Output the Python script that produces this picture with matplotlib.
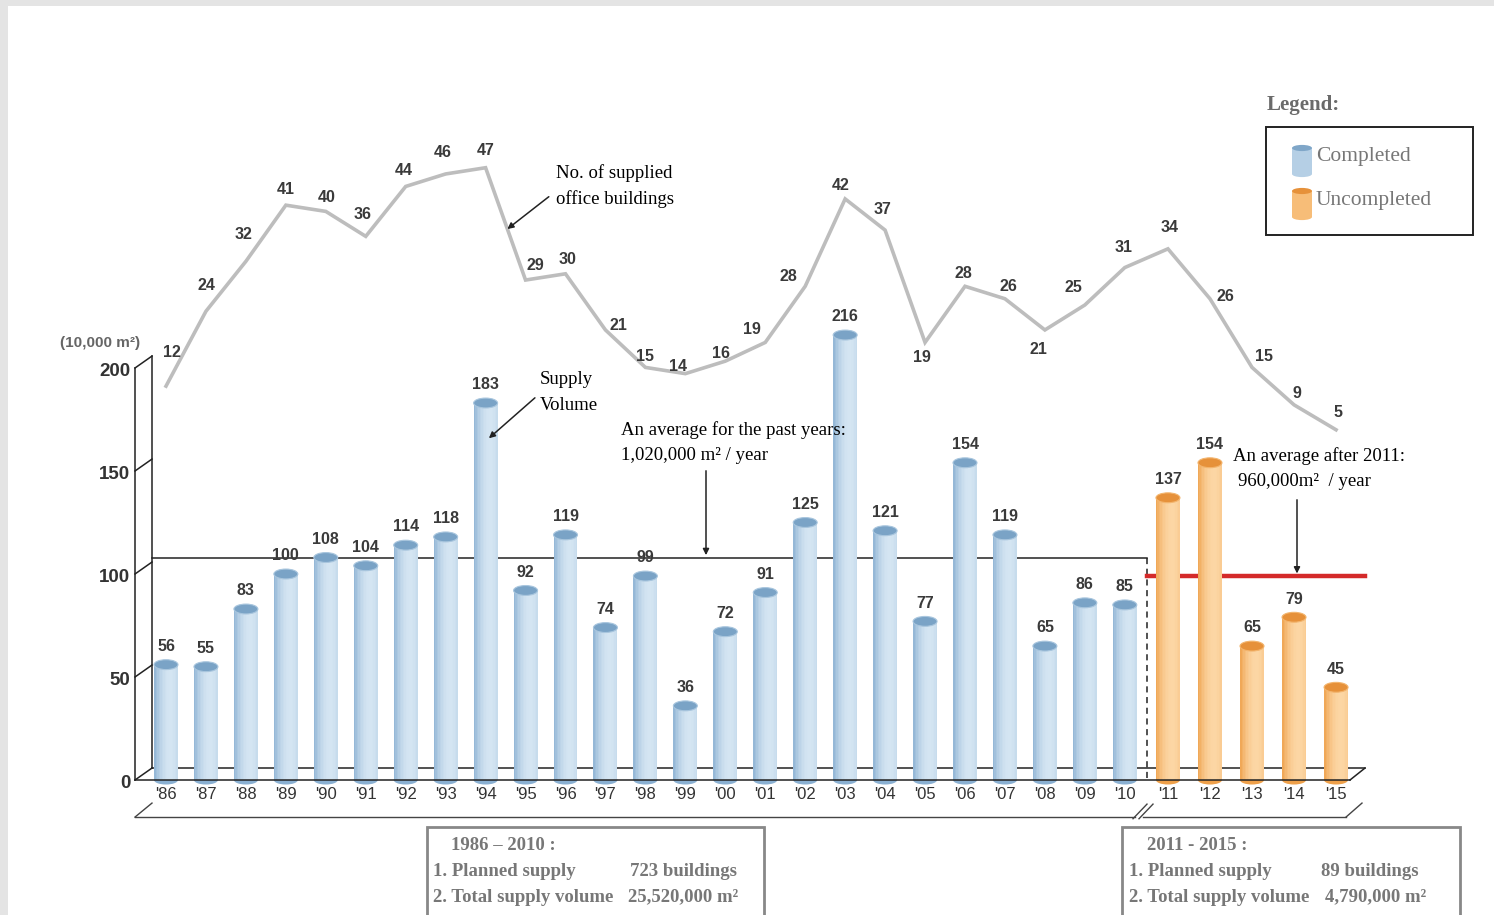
import matplotlib
matplotlib.use('Agg')
import matplotlib.pyplot as plt
import numpy as np
from matplotlib.patches import Ellipse, Rectangle
from matplotlib.colors import to_rgb

# Data
years = ["'86", "'87", "'88", "'89", "'90", "'91", "'92", "'93", "'94", "'95",
         "'96", "'97", "'98", "'99", "'00", "'01", "'02", "'03", "'04", "'05",
         "'06", "'07", "'08", "'09", "'10", "'11", "'12", "'13", "'14", "'15"]
supply_volume = [56, 55, 83, 100, 108, 104, 114, 118, 183, 92,
                 119, 74, 99, 36, 72, 91, 125, 216, 121, 77,
                 154, 119, 65, 86, 85, 137, 154, 65, 79, 45]
n_buildings = [12, 24, 32, 41, 40, 36, 44, 46, 47, 29,
               30, 21, 15, 14, 16, 19, 28, 42, 37, 19,
               28, 26, 21, 25, 31, 34, 26, 15, 9, 5]
n_completed = 25
avg_before = 102
avg_after = 96
y_ticks = [0, 50, 100, 150, 200]

# where each building-count label sits relative to its point (pixels, layout only)
count_label_offsets = [(6, 34), (0, 26), (-2, 27), (0, 16), (1, 14), (-3, 22), (-2, 16), (-3, 21),
                       (0, 17), (10, 15), (2, 14), (13, 4), (0, 11), (-7, 7), (-4, 8), (-13, 13),
                       (-17, 10), (-4, 13), (-3, 21), (-3, -15), (-2, 13), (3, 12), (-6, -20),
                       (-11, 17), (-1, 20), (2, 21), (15, 2), (12, 11), (3, 11), (2, 17)]

SANS = 'Liberation Sans'
SERIF = 'Liberation Serif'
XSCALE = 39.95
DEPTH_X, DEPTH_Y = 17 / XSCALE, 5.8


# pixel position in the reference -> data units of the main axes (layout only)
def px(x, y):
    return ((x - 166) / XSCALE, (780 - y) / 2.06)


fig = plt.figure(figsize=(14.94, 9.15), dpi=100)
fig.patch.set_facecolor('#e4e4e4')
fig.patches.append(Rectangle((8 / 1494, 0), 1, 1 - 6 / 915, transform=fig.transFigure,
                             facecolor='white', edgecolor='none', zorder=-10))

ax = fig.add_axes([0, 0, 1, 1])
ax.set_xlim(px(0, 0)[0], px(1494, 0)[0])
ax.set_ylim(px(0, 915)[1], px(0, 0)[1])
ax.axis('off')

# the forecast years are drawn a little wider apart than the past ones
xs = np.r_[np.arange(n_completed), 25.08 + 1.052 * np.arange(len(years) - n_completed)]
x_old, x_new = xs[:n_completed], xs[n_completed:]
v_old, v_new = supply_volume[:n_completed], supply_volume[n_completed:]


def shade(edge, center, t):
    e, c = np.array(to_rgb(edge)), np.array(to_rgb(center))
    k = max(0.0, 1 - ((t - 0.35) / 1.4) ** 2)
    return tuple(e + (c - e) * k)


def cylinders(x, v, edge, center, top, rim):
    width, n = 0.6, 16
    sw = width / n
    for k in range(n):
        t = -1 + (k + 0.5) * 2 / n
        ax.bar(x - width / 2 + (k + 0.5) * sw, v, width=sw, color=shade(edge, center, t),
               linewidth=0, zorder=3)
    for xi, vi in zip(x, v):
        ax.add_patch(Ellipse((xi, 0), width, 4.4, facecolor=edge, edgecolor='none', zorder=2.9))
        ax.add_patch(Ellipse((xi, vi), width, 4.8, facecolor=top, edgecolor=rim, lw=0.8, zorder=3.2))
        ax.text(xi, vi + 5.2, str(vi), ha='center', va='bottom', fontsize=11.5, family=SANS,
                fontweight='bold', color='#3a3a3a', zorder=5)


cylinders(x_old, v_old, '#8ab0d2', '#d4e5f2', '#7aa3c6', '#a9c6de')
cylinders(x_new, v_new, '#eea04a', '#fcd6a4', '#e6913a', '#f3b56e')

# 3D frame
fx0, bx0 = px(135, 0)[0], px(152, 0)[0]
ax.plot([fx0, fx0], [0, 200], color='#222', lw=1.1, zorder=2)
ax.plot([bx0, bx0], [DEPTH_Y, 200 + DEPTH_Y], color='#222', lw=1.1, zorder=2)
for t in y_ticks:
    ax.plot([fx0, bx0], [t, t + DEPTH_Y], color='#222', lw=1.1, zorder=2)
    ax.text(fx0 - 0.12, t - 1.5, str(t), ha='right', va='center', fontsize=13.5, family=SANS,
            fontweight='bold', color='#333')
ax.text(*px(60, 343), '(10,000 m\u00b2)', ha='left', va='center', fontsize=11, family=SANS,
        fontweight='bold', color='#666')

right_f, right_b = px(1350, 0)[0], px(1365, 0)[0]
ax.plot([bx0, right_b], [DEPTH_Y, DEPTH_Y], color='#222', lw=1.1, zorder=1)
ax.plot([fx0, right_f], [0, 0], color='#222', lw=1.1, zorder=4)
ax.plot([right_f, right_b], [0, DEPTH_Y], color='#222', lw=1.1, zorder=4)

# average lines
split = px(1147, 0)[0]
ax.plot([bx0, split], [avg_before + DEPTH_Y, avg_before + DEPTH_Y], color='#222', lw=1.1, zorder=1)
ax.plot([split, split], [avg_before + DEPTH_Y, 1], color='#222', lw=1.1, ls=(0, (4, 3)), zorder=2)
ax.plot([split, right_b], [avg_after + DEPTH_Y / 2] * 2, color='#d42a2a', lw=3.2, zorder=2.5)

# x tick labels
for xi, lab in zip(xs, years):
    ax.text(xi, -7, lab, ha='center', va='center', fontsize=12, family=SANS, color='#333')

# bottom brackets
by, bd = -18, 6.8
ax.plot([fx0, bx0], [by, by + bd], color='#444', lw=1)
ax.plot([fx0, px(1135, 0)[0]], [by, by], color='#444', lw=1)
ax.plot([px(1143, 0)[0], px(1346, 0)[0]], [by, by], color='#444', lw=1)
ax.plot([px(1346, 0)[0], px(1362, 0)[0]], [by, by + bd], color='#444', lw=1)
for sx in (1133, 1139):
    ax.plot([px(sx, 0)[0], px(sx + 14, 0)[0]], [by - 0.8, by + bd - 0.5], color='#444', lw=1)

# number of buildings line (own scale)
ax2 = ax.twinx()
ax2.set_ylim((461 - 915) / 6.24, 461 / 6.24)
ax2.axis('off')
ax2.plot(xs, n_buildings, color='#bdbdbd', lw=2.6, solid_joinstyle='miter')
for xi, ci, (dx, dy) in zip(xs, n_buildings, count_label_offsets):
    ax2.annotate(str(ci), (xi, ci), xytext=(dx * 0.72, dy * 0.72), textcoords='offset points',
                 ha='center', va='center', fontsize=11.5, family=SANS, fontweight='bold',
                 color='#3a3a3a')

# annotations
arrow = dict(arrowstyle='-|>', color='#222', lw=1.1, mutation_scale=9)
note = dict(fontsize=13.5, family=SERIF, va='center')
ax2.annotate('', xy=(8.49, 36.9), xytext=px(551, 195), textcoords=ax.transData, arrowprops=arrow)
ax.text(*px(556, 173), 'No. of supplied', **note)
ax.text(*px(556, 199), 'office buildings', **note)

ax.annotate('', xy=(8.03, 165), xytext=px(537, 396), arrowprops=arrow)
ax.text(*px(540, 379), 'Supply', **note)
ax.text(*px(540, 405), 'Volume', **note)

ax.annotate('', xy=(px(706, 0)[0], avg_before + DEPTH_Y), xytext=px(706, 468), arrowprops=arrow)
ax.text(*px(621, 430), 'An average for the past years:', **note)
ax.text(*px(621, 456), '1,020,000 m\u00b2 / year', **note)

ax.annotate('', xy=(px(1297, 0)[0], avg_after + DEPTH_Y / 2), xytext=px(1297, 497), arrowprops=arrow)
ax.text(*px(1233, 456), 'An average after 2011:', **note)
ax.text(*px(1238, 482), '960,000m\u00b2  / year', **note)

# legend
ax.text(*px(1267, 105), 'Legend:', fontsize=15, family=SERIF, fontweight='bold', color='#6a6a6a', va='center')
lx0, ly0 = px(1266, 235)
lx1, ly1 = px(1473, 127)
ax.add_patch(Rectangle((lx0, ly0), lx1 - lx0, ly1 - ly0, fill=False, edgecolor='#222', lw=1.4))
for yy, lab, body, top in [(160, 'Completed', '#b5cfe5', '#7fa6c8'),
                           (203, 'Uncompleted', '#f7bd78', '#e6913a')]:
    cx, cy_top = px(1302, yy - 12)
    _, cy_bot = px(1302, yy + 14)
    ax.add_patch(Rectangle((cx - 0.25, cy_bot), 0.5, cy_top - cy_bot, facecolor=body, edgecolor='none'))
    ax.add_patch(Ellipse((cx, cy_bot), 0.5, 3, facecolor=body, edgecolor='none'))
    ax.add_patch(Ellipse((cx, cy_top), 0.5, 3, facecolor=top, edgecolor='none'))
    ax.text(*px(1316, yy - 3), lab, fontsize=15.5, family=SERIF, color='#777', va='center')

# summary boxes
for x0, x1, head, p1, p2, n1, n2 in [
        (427, 764, '1986 \u2013 2010 :', (451, 630), (433, 628), '723 buildings', '25,520,000 m\u00b2'),
        (1122, 1460, '2011 - 2015 :', (1147, 1321), (1129, 1325), '89 buildings', '4,790,000 m\u00b2')]:
    bx, byy = px(x0, 940)
    bx1, byy1 = px(x1, 827)
    ax.add_patch(Rectangle((bx, byy), bx1 - bx, byy1 - byy, fill=False, edgecolor='#888', lw=2, clip_on=False))
    style = dict(fontsize=13.5, family=SERIF, fontweight='bold', color='#777', va='center')
    ax.text(*px(p1[0], 845), head, **style)
    ax.text(*px(p2[0], 871), '1. Planned supply', **style)
    ax.text(*px(p1[1], 871), n1, **style)
    ax.text(*px(p2[0], 897), '2. Total supply volume', **style)
    ax.text(*px(p2[1], 897), n2, **style)

fig.savefig('out.png', dpi=100)
